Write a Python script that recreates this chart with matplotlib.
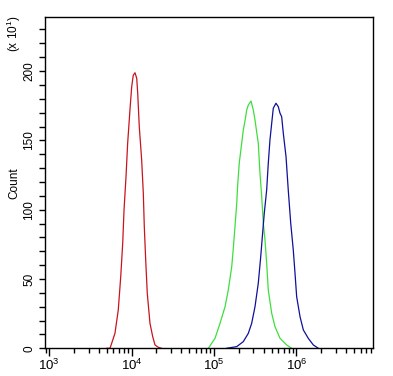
import numpy as np
import matplotlib
matplotlib.use('Agg')
import matplotlib.pyplot as plt
from matplotlib.ticker import LogLocator, NullFormatter, FixedLocator, MultipleLocator

plt.rcParams['font.family'] = ['Liberation Sans', 'DejaVu Sans']
plt.rcParams['mathtext.default'] = 'regular'

# fluorescence intensity vs count (x10)
red_x = [5000, 5458, 6266, 6871, 7362, 7780, 8072, 8531, 8933, 9528, 10000, 10447,
         10965, 11508, 11830, 12359, 13213, 13836, 14223, 14791, 15453, 16672,
         17989, 19187, 21038, 23000]
red_y = [0, 0, 10.8, 27.6, 51.7, 75.8, 99.8, 123.8, 147.9, 172.0, 188.7, 197.0,
         198.8, 194.8, 184.0, 160.0, 135.9, 111.8, 87.7, 63.7, 39.7, 18.0,
         8.4, 2.4, 0.7, 0]

green_x = [85114, 102600, 118000, 135800, 148600, 163700, 171000, 179400, 188000,
           193300, 202300, 216300, 226100, 237100, 248700, 260200, 280500, 299200,
           313600, 343700, 360500, 378300, 395500, 414800, 434500, 454600, 500000,
           548300, 631000, 760300, 874800]
green_y = [0, 7.2, 18.0, 30.0, 42.0, 58.9, 72.0, 88.0, 104.0, 118.0, 134.0, 148.0,
           157.5, 164.0, 171.9, 175.5, 178.4, 171.9, 164.7, 147.9, 126.3, 109.4,
           90.2, 78.1, 61.3, 42.0, 25.3, 15.6, 7.2, 2.4, 0]

blue_x = [142200, 188000, 226100, 260200, 285800, 313600, 343700, 367900, 384900,
          406400, 434500, 454600, 476400, 500000, 522800, 563600, 601300, 631000,
          660700, 691800, 746400, 794300, 851100, 914100, 959400, 1004600, 1104000,
          1211000, 1390000, 1600000, 1841000]
blue_y = [0, 1.2, 4.8, 10.8, 18.0, 30.0, 46.9, 66.0, 80.5, 97.4, 114.2, 133.5,
          150.3, 162.3, 173.2, 176.8, 174.3, 169.6, 167.1, 155.1, 138.2, 114.2,
          90.2, 70.9, 54.1, 37.2, 22.8, 13.2, 7.2, 2.4, 0]

x_ticks = [1e3, 1e4, 1e5, 1e6]
x_labels = ['$10^{3}$', '$10^{4}$', '$10^{5}$', '$10^{6}$']
y_ticks = [0, 50, 100, 150, 200]

fig = plt.figure(figsize=(3.93, 3.76), dpi=100)
ax = fig.add_axes([0.1145, 0.0737, 0.8345, 0.8803])

ax.plot(red_x, red_y, color='#c8141e', lw=0.9)
ax.plot(green_x, green_y, color='#3ede3e', lw=0.9)
ax.plot(blue_x, blue_y, color='#10109a', lw=0.9)

ax.set_xscale('log')
ax.set_xlim(887, 8.47e6)
ax.set_ylim(0, 238.8)

ax.xaxis.set_major_locator(FixedLocator(x_ticks))
ax.set_xticklabels(x_labels)
ax.xaxis.set_minor_locator(LogLocator(base=10, subs=np.arange(2, 10)))
ax.xaxis.set_minor_formatter(NullFormatter())

ax.set_yticks(y_ticks)
ax.set_yticklabels([str(v) for v in y_ticks], rotation=90, va='center')
ax.yaxis.set_minor_locator(MultipleLocator(10))

ax.tick_params(which='major', axis='x', length=5.5, width=1.0, labelsize=9.5, pad=1)
ax.tick_params(which='minor', axis='x', length=3.5, width=1.0)
ax.tick_params(which='major', axis='y', length=4, width=1.0, labelsize=8.5, pad=3)
ax.tick_params(which='minor', axis='y', length=4, width=1.0)

for s in ax.spines.values():
    s.set_linewidth(1.0)

ax.set_ylabel('Count', fontsize=8.5, labelpad=2)
fig.text(0.035, 0.91, '(x 10$^{1}$)', rotation=90, fontsize=8.5,
         ha='center', va='center')

plt.savefig('out.png', dpi=100)
